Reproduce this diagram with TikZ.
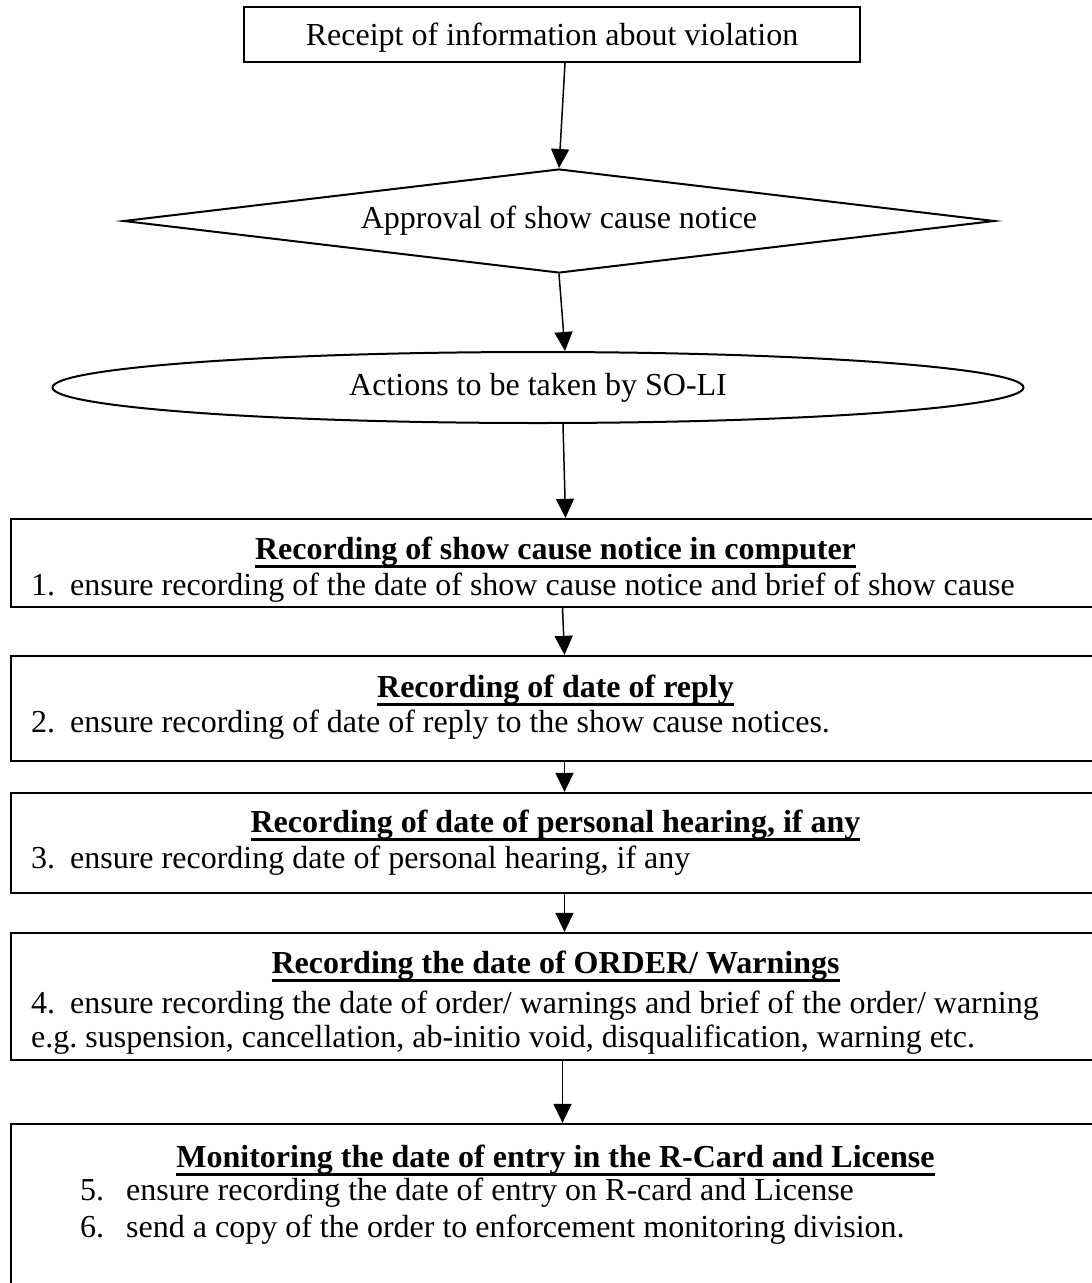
\documentclass[tikz,border=0pt]{standalone}
\usepackage{fontspec}
\setmainfont{Liberation Serif}
\usetikzlibrary{shapes.geometric,arrows.meta}
\newcommand{\undl}[1]{\setbox0\hbox{#1}\rlap{\rule[-9pt]{\wd0}{3pt}}\box0}
\newcommand{\itm}[3][39pt]{\makebox[#1][l]{#2}#3}
\frenchspacing

\begin{document}
\begin{tikzpicture}[x=1pt,y=-1pt,
    box/.style={draw, line width=2.3pt, inner sep=0pt, font=\fontsize{32}{37}\selectfont},
    txt/.style={inner sep=0pt, anchor=base, font=\fontsize{32}{37}\selectfont},
    flow/.style={line width=1.5pt, -{Triangle[length=19pt,width=18pt]}}]
         \useasboundingbox (0,0) rectangle (1092,1283);
         \clip (0,0) rectangle (1092,1283);

         \node[box, minimum width=616, minimum height=55, text depth=0pt] (receipt) at (552,34.5) {Receipt of information about violation};
         \node[box, shape=diamond, aspect=8.4, line width=2pt, minimum width=871, minimum height=104] (approval) at (559,221) {Approval of show cause notice};
         \node[box, shape=ellipse, line width=2pt, minimum width=971, minimum height=71] (actions) at (538,387.5) {Actions to be taken by SO-LI};

         \node[box, minimum width=1089, minimum height=88] (rec1) at (555.5,563) {};
         \node[box, minimum width=1089, minimum height=105] (rec2) at (555.5,708.5) {};
         \node[box, minimum width=1089, minimum height=100] (rec3) at (555.5,843) {};
         \node[box, minimum width=1089, minimum height=127] (rec4) at (555.5,996.5) {};
         \node[box, minimum width=1089, minimum height=176] (rec5) at (555.5,1212) {};

         \node[txt] (ttl1) at (555.5,559) {\textbf{\undl{Recording of show cause notice in computer}}};
         \node[txt, anchor=base west] (itm1) at (31,595) {\itm{1.}{ensure recording of the date of show cause notice and brief of show cause}};
         \node[txt] (ttl2) at (555.5,697) {\textbf{\undl{Recording of date of reply}}};
         \node[txt, anchor=base west] (itm2) at (31,732) {\itm{2.}{ensure recording of date of reply to the show cause notices.}};
         \node[txt] (ttl3) at (555.5,832) {\textbf{\undl{Recording of date of personal hearing, if any}}};
         \node[txt, anchor=base west] (itm3) at (31,868) {\itm{3.}{ensure recording date of personal hearing, if any}};
         \node[txt] (ttl4) at (555.5,973) {\textbf{\undl{Recording the date of ORDER/ Warnings}}};
         \node[txt, anchor=base west] (itm4) at (31,1013) {\itm{4.}{ensure recording the date of order/ warnings and brief of the order/ warning}};
         \node[txt, anchor=base west] (itm4b) at (31,1047) {e.g.\ suspension, cancellation, ab-initio void, disqualification, warning etc.};
         \node[txt] (ttl5) at (555.5,1167) {\textbf{\undl{Monitoring the date of entry in the R-Card and License}}};
         \node[txt, anchor=base west] (itm5) at (80,1200) {\itm[46pt]{5.}{ensure recording the date of entry on R-card and License}};
         \node[txt, anchor=base west] (itm6) at (80,1237) {\itm[46pt]{6.}{send a copy of the order to enforcement monitoring division.}};

         \draw[flow] ([xshift=13]receipt.south) -- (approval.north);
         \draw[flow] (approval.south) -- ([xshift=27]actions.north);
         \draw[flow] ([xshift=25]actions.south) -- ([xshift=10]rec1.north);
         \draw[flow] ([xshift=7]rec1.south) -- ([xshift=9]rec2.north);
         \draw[flow] ([xshift=9]rec2.south) -- ([xshift=9]rec3.north);
         \draw[flow] ([xshift=9]rec3.south) -- ([xshift=9]rec4.north);
         \draw[flow] ([xshift=7]rec4.south) -- ([xshift=7]rec5.north);
      \end{tikzpicture}
\end{document}
